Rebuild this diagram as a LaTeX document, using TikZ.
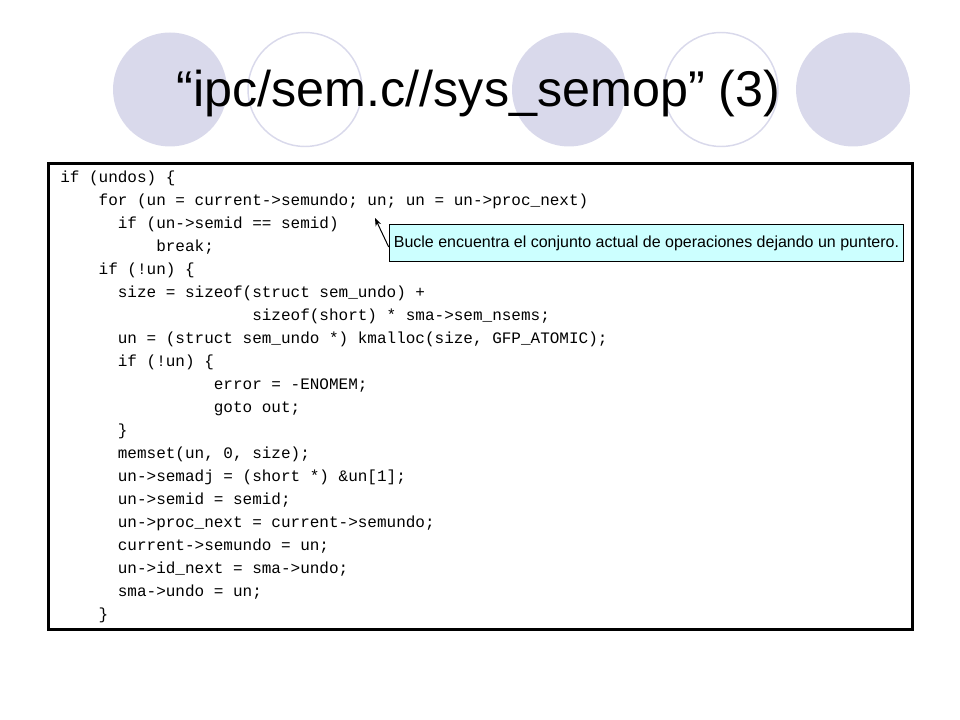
\documentclass[tikz,border=0pt]{standalone}
\usepackage{fontspec}
\setmainfont{Liberation Sans}
\setmonofont{Liberation Mono}
\usetikzlibrary{positioning, arrows.meta}
\definecolor{lavender}{RGB}{217,217,235}
\definecolor{notefill}{RGB}{204,255,255}
\newlength\cw \setlength\cw{7.2pt}
\newcommand\ind[1]{\hspace*{#1\cw}}

\begin{document}
\begin{tikzpicture}[x=0.75pt, y=-0.75pt,
    bubble/.style={fill=lavender},
    ring/.style={draw=lavender, line width=1.1pt},
    heading/.style={font=\fontsize{37.7}{40}\selectfont, inner sep=0pt, anchor=base},
    codebox/.style={rectangle, draw=black, line width=2.25pt, fill=white, minimum width=648.5pt, minimum height=350pt},
    listing/.style={font=\ttfamily\fontsize{12}{17.25}\selectfont, align=left, inner sep=0pt, anchor=north west},
    note/.style={rectangle, draw=black, line width=0.75pt, fill=notefill, minimum width=386pt, minimum height=27.75pt, font=\fontsize{12}{14}\selectfont},
    arrow/.style={line width=0.75pt, -{Stealth[length=6pt, width=4.5pt]}},
]
\useasboundingbox (0,0) rectangle (960,720);

% Circles behind the title
\foreach \cx in {170, 569, 853} \fill[bubble] (\cx,89.5) circle (57);
\foreach \cx in {305, 721} \draw[ring] (\cx,89.5) circle (57);

% Title
\node[heading] (title) at (478.5,107) {“ipc/sem.c//sys\_semop” (3)};

% Code listing
\node[codebox] (frame) at (480.65,396.65) {};
\node[listing] (code) at (60,171) {%
if (undos) \{\\
\ind{4}for (un = current->semundo; un; un = un->proc\_next)\\
\ind{6}if (un->semid == semid)\\
\ind{10}break;\\
\ind{4}if (!un) \{\\
\ind{6}size = sizeof(struct sem\_undo) +\\
\ind{20}sizeof(short) * sma->sem\_nsems;\\
\ind{6}un = (struct sem\_undo *) kmalloc(size, GFP\_ATOMIC);\\
\ind{6}if (!un) \{\\
\ind{16}error = -ENOMEM;\\
\ind{16}goto out;\\
\ind{6}\}\\
\ind{6}memset(un, 0, size);\\
\ind{6}un->semadj = (short *) \&un[1];\\
\ind{6}un->semid = semid;\\
\ind{6}un->proc\_next = current->semundo;\\
\ind{6}current->semundo = un;\\
\ind{6}un->id\_next = sma->undo;\\
\ind{6}sma->undo = un;\\
\ind{4}\}};

% Callout
\node[note] (remark) at (646.5,243.5) {Bucle encuentra el conjunto actual de operaciones dejando un puntero.};
\coordinate (tip) at (375,218);
\draw[arrow] ([yshift=-2.6pt]remark.west) -- (tip);

\end{tikzpicture}
\end{document}
